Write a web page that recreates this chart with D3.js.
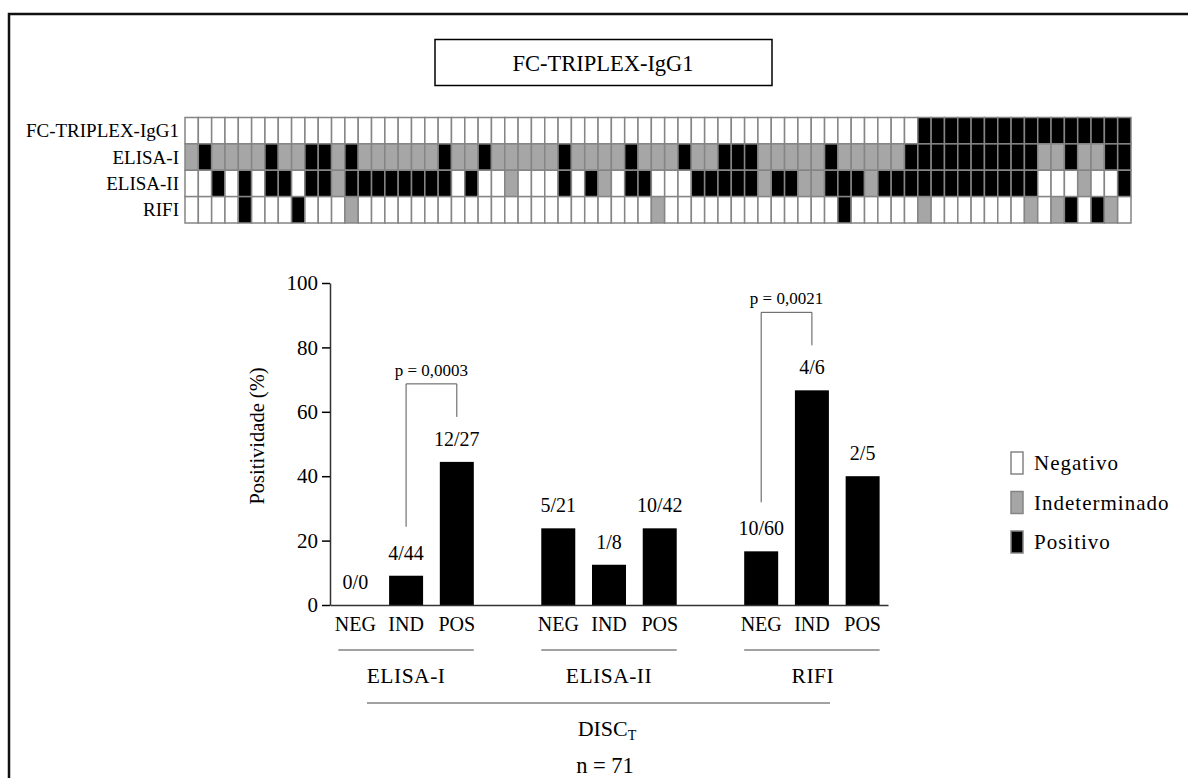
<!DOCTYPE html>
<html>
<head>
<meta charset="utf-8">
<script src="https://cdn.jsdelivr.net/npm/d3@7"></script>
<style>
  html, body { margin: 0; padding: 0; background: #fff; }
  svg { display: block; font-family: "Liberation Serif", "Times New Roman", serif; }
</style>
</head>
<body>
<svg id="chart" width="1188" height="778"></svg>
<script>
// ---- Per-patient results (N = negativo, I = indeterminado, P = positivo), n = 71
const assayRows = ["FC-TRIPLEX-IgG1", "ELISA-I", "ELISA-II", "RIFI"];
const fcTriplexResults =
  "NNNNNNNNNN NNNNNNNNNN NNNNNNNNNN NNNNNNNNNN NNNNNNNNNN NNNNNPPPPP PPPPPPPPPPP";
const elisa1Results =
  "IPIIIIPIIP PIPIIIIIIP IIPIIIIIPI IIIPIIIPII PPPIIIIIPI IIIIPPPPPP PPPPIIPIIPP";
const elisa2Results =
  "NNPNPNPPNP PIPPPPPPPP NPNNINNNPN PINPPNNNPP PPPIPPIIPP PIPPPPPPPP PPPPNNNINNP";
const rifiResults =
  "NNNNPNNNPN NNINNNNNNN NNNNNNNNNN NNNNNINNNN NNNNNNNNNP NNNNNINNNN NNNINIPNPIN";

// ---- FC-TRIPLEX-IgG1 positivity within each conventional-test category
const testGroups = ["ELISA-I", "ELISA-II", "RIFI"];
const resultLevels = ["NEG", "IND", "POS"];
const positiveCounts = [0, 4, 12, 5, 1, 10, 10, 4, 2];
const totalCounts = [0, 44, 27, 21, 8, 42, 60, 6, 5];
const yTicks = [0, 20, 40, 60, 80, 100];

// ---- Significance comparisons
const comparisons = [
  { group: "ELISA-I", from: "IND", to: "POS", label: "p = 0,0003" },
  { group: "RIFI", from: "NEG", to: "IND", label: "p = 0,0021" }
];

const legendItems = [
  { code: "N", label: "Negativo" },
  { code: "I", label: "Indeterminado" },
  { code: "P", label: "Positivo" }
];

const fillFor = { N: "#ffffff", I: "#a6a6a6", P: "#000000" };

const svg = d3.select("#chart");

// Outer frame
svg.append("rect")
  .attr("x", 9).attr("y", 14)
  .attr("width", 1200).attr("height", 800)
  .attr("fill", "none").attr("stroke", "#111").attr("stroke-width", 2.5);

// Title box
svg.append("rect")
  .attr("x", 435).attr("y", 39.5).attr("width", 337).attr("height", 46)
  .attr("fill", "#fff").attr("stroke", "#000").attr("stroke-width", 1.5);
svg.append("text")
  .attr("x", 603).attr("y", 70.5)
  .attr("text-anchor", "middle")
  .attr("font-size", 22.5)
  .text("FC-TRIPLEX-IgG1");

// ---- Result grid
const rowData = [fcTriplexResults, elisa1Results, elisa2Results, rifiResults]
  .map(s => s.replace(/\s/g, "").split(""));
const nPatients = rowData[0].length;

const xCell = d3.scaleBand().domain(d3.range(nPatients)).range([185, 1131]).padding(0);
const yRow = d3.scaleBand().domain(assayRows).range([117.5, 223]).padding(0);

const grid = svg.append("g");
assayRows.forEach((row, r) => {
  grid.append("g")
    .selectAll("rect")
    .data(rowData[r])
    .join("rect")
    .attr("x", (d, i) => xCell(i))
    .attr("y", yRow(row))
    .attr("width", xCell.bandwidth())
    .attr("height", yRow.bandwidth())
    .attr("fill", d => fillFor[d])
    .attr("stroke", "#858585")
    .attr("stroke-width", 1.5);
});
grid.append("g")
  .selectAll("text")
  .data(assayRows)
  .join("text")
  .attr("x", 179)
  .attr("y", d => yRow(d) + yRow.bandwidth() / 2 + 6.5)
  .attr("text-anchor", "end")
  .attr("font-size", 19)
  .text(d => d);

// ---- Bar chart
const slots = [];
testGroups.forEach((g, gi) => {
  resultLevels.forEach(l => slots.push(g + "|" + l));
  if (gi < testGroups.length - 1) slots.push("gap" + gi);
});
const bars = [];
testGroups.forEach((g, gi) => {
  resultLevels.forEach((l, li) => {
    const k = gi * resultLevels.length + li;
    const pos = positiveCounts[k], tot = totalCounts[k];
    bars.push({ key: g + "|" + l, group: g, level: l, pos, tot,
                pct: tot > 0 ? pos / tot * 100 : 0 });
  });
});
const barByKey = new Map(bars.map(b => [b.key, b]));

const x = d3.scaleBand().domain(slots).range([330, 888])
  .paddingInner(0.33).paddingOuter(0.165);
const y = d3.scaleLinear().domain([0, 100]).range([605, 283]);
const cx = k => x(k) + x.bandwidth() / 2;

const chart = svg.append("g");

// Y axis
const yAxis = chart.append("g")
  .attr("transform", "translate(330,0)")
  .call(d3.axisLeft(y).tickValues(yTicks).tickSize(8).tickSizeOuter(0).tickPadding(4));
yAxis.select(".domain").attr("stroke", "#333").attr("stroke-width", 1.5);
yAxis.selectAll(".tick line").attr("stroke", "#000").attr("stroke-width", 1.5);
yAxis.selectAll(".tick text")
  .attr("font-size", 21)
  .attr("font-family", "'Liberation Serif', 'Times New Roman', serif")
  .attr("fill", "#000");

chart.append("text")
  .attr("transform", "translate(264,436) rotate(-90)")
  .attr("text-anchor", "middle")
  .attr("font-size", 20.5)
  .text("Positividade (%)");

// Bars
chart.append("g")
  .selectAll("rect")
  .data(bars)
  .join("rect")
  .attr("x", d => x(d.key))
  .attr("y", d => y(d.pct))
  .attr("width", x.bandwidth())
  .attr("height", d => y(0) - y(d.pct))
  .attr("fill", "#000");

// X baseline and level labels
const xAxis = chart.append("g")
  .attr("transform", `translate(0,${y(0)})`)
  .call(d3.axisBottom(x)
    .tickValues(bars.map(b => b.key))
    .tickFormat(k => k.split("|")[1])
    .tickSize(0).tickSizeOuter(0).tickPadding(12));
xAxis.select(".domain").attr("stroke", "#333").attr("stroke-width", 1.5);
xAxis.selectAll(".tick text")
  .attr("font-size", 20)
  .attr("font-family", "'Liberation Serif', 'Times New Roman', serif")
  .attr("fill", "#000");

// Value labels
const labelGap = 16;
chart.append("g")
  .selectAll("text")
  .data(bars)
  .join("text")
  .attr("x", d => cx(d.key))
  .attr("y", d => y(d.pct) - labelGap)
  .attr("text-anchor", "middle")
  .attr("font-size", 20)
  .text(d => `${d.pos}/${d.tot}`);

// Significance brackets
const labelTop = k => y(barByKey.get(k).pct) - labelGap - 14;
comparisons.forEach(c => {
  const a = c.group + "|" + c.from, b = c.group + "|" + c.to;
  const x1 = cx(a), x2 = cx(b);
  const leftBottom = labelTop(a) - 19;
  const rightBottom = labelTop(b) - 15;
  const top = Math.min(leftBottom, rightBottom) - 33;
  chart.append("path")
    .attr("d", `M${x1},${leftBottom}V${top}H${x2}V${rightBottom}`)
    .attr("fill", "none")
    .attr("stroke", "#555")
    .attr("stroke-width", 1);
  chart.append("text")
    .attr("x", (x1 + x2) / 2)
    .attr("y", top - 8)
    .attr("text-anchor", "middle")
    .attr("font-size", 17)
    .text(c.label);
});

// Group underlines and names
testGroups.forEach(g => {
  const x0 = x(g + "|" + resultLevels[0]);
  const x1 = x(g + "|" + resultLevels[resultLevels.length - 1]) + x.bandwidth();
  chart.append("line")
    .attr("x1", x0).attr("x2", x1)
    .attr("y1", 650).attr("y2", 650)
    .attr("stroke", "#444").attr("stroke-width", 1);
  chart.append("text")
    .attr("x", (x0 + x1) / 2 + (g === "RIFI" ? 1 : 0))
    .attr("y", 683)
    .attr("text-anchor", "middle")
    .attr("font-size", 21.5)
    .attr("letter-spacing", 0.5)
    .text(g);
});

// Overall cohort line and caption
const r0 = x.range()[0], r1 = x.range()[1];
chart.append("line")
  .attr("x1", r0 + 37).attr("x2", r1 - 58)
  .attr("y1", 703).attr("y2", 703)
  .attr("stroke", "#444").attr("stroke-width", 1);
const disc = chart.append("text")
  .attr("x", 607).attr("y", 736)
  .attr("text-anchor", "middle")
  .attr("font-size", 22);
disc.append("tspan").text("DISC");
disc.append("tspan").attr("font-size", 14).attr("dy", 4).text("T");
chart.append("text")
  .attr("x", 605).attr("y", 773)
  .attr("text-anchor", "middle")
  .attr("font-size", 22.5)
  .text("n = " + nPatients);

// Legend
const legend = svg.append("g").attr("transform", "translate(1011,0)");
const legendY = d3.scalePoint().domain(legendItems.map(d => d.code)).range([463, 542]);
legend.selectAll("rect")
  .data(legendItems)
  .join("rect")
  .attr("x", 0)
  .attr("y", d => legendY(d.code) - 11)
  .attr("width", 12)
  .attr("height", 22)
  .attr("fill", d => fillFor[d.code])
  .attr("stroke", "#858585")
  .attr("stroke-width", 1.5);
legend.selectAll("text")
  .data(legendItems)
  .join("text")
  .attr("x", 23)
  .attr("y", d => legendY(d.code) + 7)
  .attr("font-size", 21)
  .attr("letter-spacing", 1)
  .text(d => d.label);
</script>
</body>
</html>
